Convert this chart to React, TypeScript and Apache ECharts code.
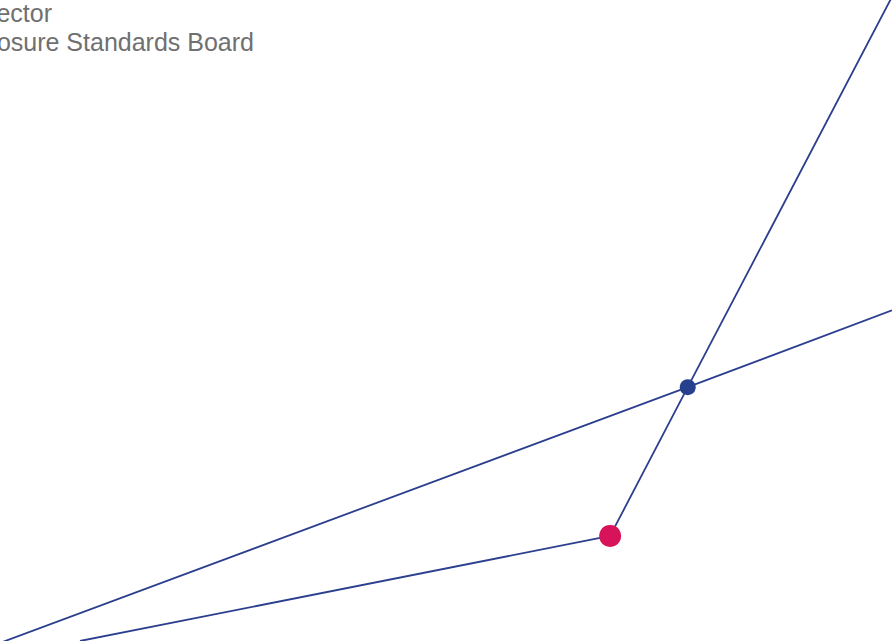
import React, { useEffect, useRef } from "react";
import * as echarts from "echarts";

// Data in chart units (x: 0–100, y: 0–100, y upward)
const lineA: [number, number][] = [
  [0, -0.3],
  [77.1, 39.6],
  [100, 51.6],
];
const lineB: [number, number][] = [
  [8.97, 0],
  [68.4, 16.4],
  [77.1, 39.6],
  [100, 100.5],
];
const redPoint: [number, number][] = [[68.4, 16.4]];
const bluePoint: [number, number][] = [[77.1, 39.6]];
const labels: string[] = ["ector", "osure Standards Board"];

export default function App() {
  const ref = useRef<HTMLDivElement>(null);
  useEffect(() => {
    if (!ref.current) return;
    const chart = echarts.init(ref.current, undefined, { renderer: "svg" });
    const lineColor = "#2b3f8e";
    chart.setOption({
      animation: false,
      backgroundColor: "#ffffff",
      grid: { left: 0, right: 0, top: 0, bottom: 0, containLabel: false },
      xAxis: { type: "value", min: 0, max: 100, show: false },
      yAxis: { type: "value", min: 0, max: 100, show: false },
      graphic: [
        {
          type: "text",
          x: 52,
          y: 12.5,
          style: {
            text: labels[0],
            font: '25px "Liberation Sans", Arial, sans-serif',
            fill: "#707070",
            align: "right",
            verticalAlign: "middle",
          },
        },
        {
          type: "text",
          x: 254,
          y: 41.5,
          style: {
            text: labels[1],
            font: '25px "Liberation Sans", Arial, sans-serif',
            fill: "#707070",
            align: "right",
            verticalAlign: "middle",
          },
        },
      ],
      series: [
        {
          type: "line",
          data: lineA,
          symbol: "none",
          lineStyle: { color: lineColor, width: 1.8 },
          clip: true,
          z: 1,
        },
        {
          type: "line",
          data: lineB,
          symbol: "none",
          lineStyle: { color: lineColor, width: 1.8 },
          clip: true,
          z: 1,
        },
        {
          type: "scatter",
          data: redPoint,
          symbolSize: 22,
          itemStyle: { color: "#d7135a", opacity: 1 },
          z: 3,
        },
        {
          type: "scatter",
          data: bluePoint,
          symbolSize: 16,
          itemStyle: { color: "#26408e", opacity: 1 },
          z: 3,
        },
      ],
    });
    return () => chart.dispose();
  }, []);
  return (
    <div
      ref={ref}
      style={{ position: "fixed", left: 0, top: 0, width: 892, height: 641 }}
    />
  );
}
